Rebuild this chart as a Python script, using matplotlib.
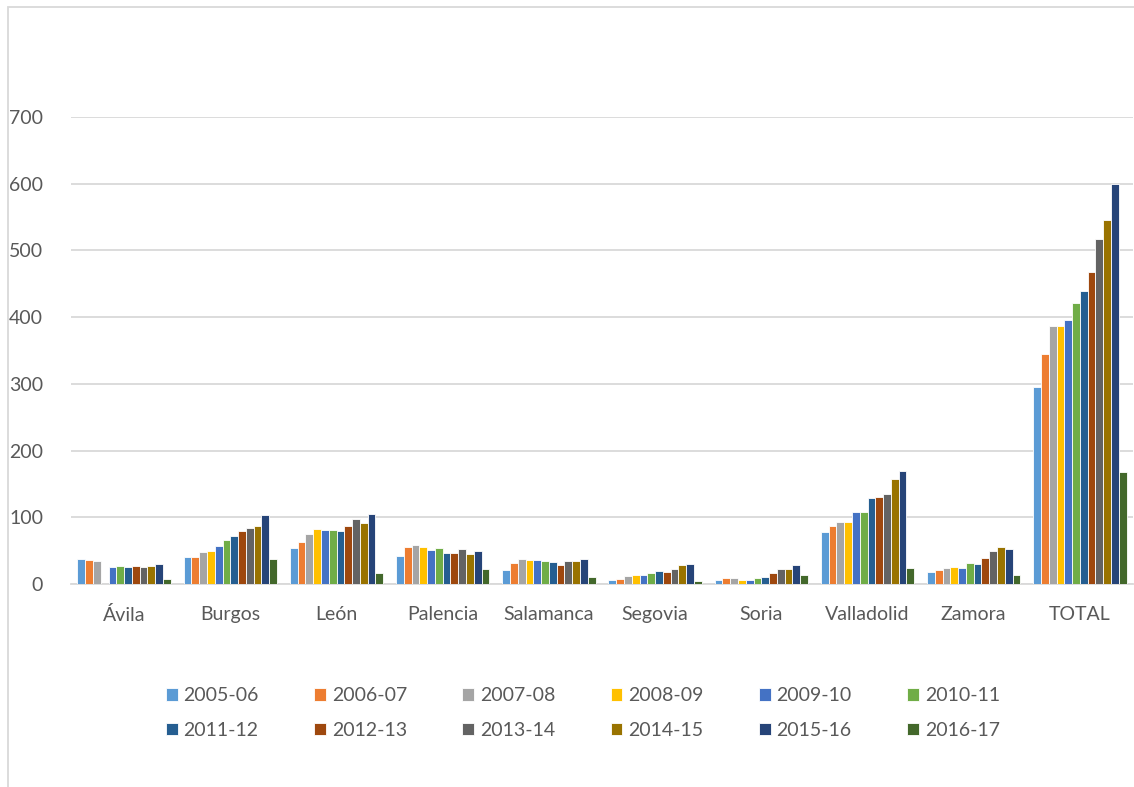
import numpy as np
import matplotlib
matplotlib.use("Agg")
import matplotlib.pyplot as plt
from matplotlib.patches import Rectangle

plt.rcParams['font.family'] = ['Lato', 'DejaVu Sans']

provinces = ['Ávila', 'Burgos', 'León', 'Palencia', 'Salamanca',
             'Segovia', 'Soria', 'Valladolid', 'Zamora', 'TOTAL']
courses = ['2005-06', '2006-07', '2007-08', '2008-09', '2009-10', '2010-11',
           '2011-12', '2012-13', '2013-14', '2014-15', '2015-16', '2016-17']

# valores por provincia, una lista por curso
c2005 = [37, 40.5, 53.5, 41.5, 21, 6, 6, 78, 18, 296]
c2006 = [36, 40.5, 63, 56, 31, 7.5, 9, 87.5, 21, 345]
c2007 = [34.5, 48, 75, 58.5, 37.5, 12, 9, 93.5, 24, 386.5]
c2008 = [0, 50, 82.5, 55, 36, 13.5, 6, 92.5, 26, 386.5]
c2009 = [25.5, 57, 81, 50.5, 36, 13.5, 6, 107.5, 24, 395.5]
c2010 = [27.5, 65.5, 81, 53.5, 34.5, 16.5, 9, 107.5, 31, 420.5]
c2011 = [25.5, 72, 79, 46.5, 33, 19.5, 10.5, 129, 30, 439]
c2012 = [27.5, 79, 86.5, 46.5, 28.5, 18, 16.5, 131, 39, 468]
c2013 = [25.5, 84, 97.5, 52, 35, 22, 22, 135.5, 49, 517.5]
c2014 = [27.5, 87.5, 92, 45, 35, 28.5, 22.5, 157, 55, 545]
c2015 = [29.5, 104, 105, 49.5, 37.5, 29.5, 28.5, 169, 52, 599]
c2016 = [7, 37, 16, 22.5, 10.5, 4.5, 13, 24, 13, 168.5]
series = [c2005, c2006, c2007, c2008, c2009, c2010,
          c2011, c2012, c2013, c2014, c2015, c2016]

colors = ['#5B9BD5', '#ED7D31', '#A5A5A5', '#FFC000', '#4472C4', '#70AD47',
          '#255E91', '#9E480E', '#636363', '#997300', '#264478', '#43682B']
text_color = '#595959'
grid_color = '#D9D9D9'

fig = plt.figure(figsize=(11.34, 7.87), dpi=100)
ax = fig.add_axes([71 / 1134, 1 - 584 / 787, 1062 / 1134, 467 / 787])

x = np.arange(len(provinces))
group = 0.88
w = group / len(series)
for i, (vals, col) in enumerate(zip(series, colors)):
    ax.bar(x - group / 2 + w * (i + 0.5), vals, width=w, color=col,
           edgecolor='white', linewidth=0.6, label=courses[i], zorder=3)

ax.set_xlim(-0.5, len(provinces) - 0.5)
ax.set_ylim(0, 700)
ax.set_yticks(range(0, 701, 100))
ax.set_xticks(x)
ax.set_xticklabels(provinces)
ax.grid(axis='y', color=grid_color, linewidth=1.3, zorder=0)
ax.tick_params(axis='both', length=0, labelsize=14, labelcolor=text_color)
ax.tick_params(axis='y', pad=20)
ax.tick_params(axis='x', pad=16)
for s in ['top', 'right', 'left']:
    ax.spines[s].set_visible(False)
ax.spines['bottom'].set_color(grid_color)
ax.spines['bottom'].set_linewidth(1.3)

# leyenda en filas: reordenar para ncol=6
handles, labels = ax.get_legend_handles_labels()
order = [j for c in range(6) for j in (c, c + 6)]
fig.legend([handles[j] for j in order], [labels[j] for j in order],
           loc='center', bbox_to_anchor=(0.514, 1 - 713 / 787), ncol=6,
           frameon=False, fontsize=14, labelcolor=text_color,
           handlelength=0.6, handleheight=0.6, handletextpad=0.3,
           columnspacing=2.85, labelspacing=0.9)

# borde del área del gráfico
fig.patches.append(Rectangle((8 / 1134, -0.01), 1.2, 1 - 7 / 787 + 0.01,
                             transform=fig.transFigure, fill=False,
                             edgecolor=grid_color, linewidth=1.3))

fig.savefig('out.png', dpi=100)
